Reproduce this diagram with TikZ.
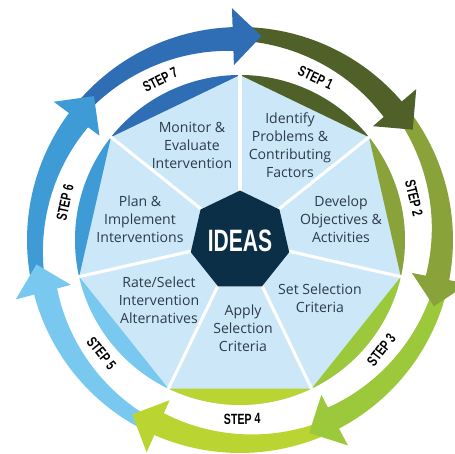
\documentclass[tikz,border=0pt]{standalone}
\usepackage{fontspec}
\setmainfont{Open Sans}
\newfontfamily\labelfont{Liberation Sans}[FakeStretch=0.72]
\newfontfamily\ideasfont{Liberation Sans}[FakeStretch=0.68]
\usetikzlibrary{shapes.geometric}

\definecolor{stepA}{HTML}{4F6129}
\definecolor{stepB}{HTML}{8AA23A}
\definecolor{stepC}{HTML}{9CC83B}
\definecolor{stepD}{HTML}{BAD532}
\definecolor{stepE}{HTML}{78C8F0}
\definecolor{stepF}{HTML}{3E9BD6}
\definecolor{stepG}{HTML}{2F6DB5}
\definecolor{paleblue}{HTML}{CCE8F8}
\definecolor{ideasnavy}{HTML}{0C2F48}
\definecolor{slate}{HTML}{2B3B4C}

\begin{document}
\begin{tikzpicture}[x=0.025cm,y=0.025cm,
    sectortext/.style={align=center,text=slate,font=\fontsize{10}{12.8}\selectfont},
    steplabel/.style={font=\labelfont\bfseries\fontsize{10.5}{10.5}\selectfont,inner sep=0pt}]
    \useasboundingbox (-240,-214) rectangle (215,240);
    % arrow bodies
    \foreach \k/\col in {1/stepA,2/stepB,3/stepC,4/stepD,5/stepE,6/stepF,7/stepG} {
        \pgfmathsetmacro{\b}{92-51.43*\k}
        \pgfmathsetmacro{\s}{\b+47.43}
        \pgfmathsetmacro{\e}{\b-1}
        \fill[\col] plot[domain=\s:\e,samples=30] (\x:213)
            -- plot[domain=\e:\s,samples=30] (\x:{189+10*(\x-\e)/48.43}) -- cycle;
    }
    % arrow heads
    \foreach \k/\col in {1/stepA,2/stepB,3/stepC,4/stepD,5/stepE,6/stepF,7/stepG} {
        \pgfmathsetmacro{\b}{92-51.43*\k}
        \fill[\col] (\b:175) -- (\b:232) -- ({\b-8}:205) -- cycle;
    }
    % pie and crescents
    \fill[paleblue] (0,0) circle (165);
    \foreach \k/\col in {1/stepA,2/stepB,3/stepC,4/stepD,5/stepE,6/stepF,7/stepG} {
        \pgfmathsetmacro{\v}{90-51.43*(\k-1)}
        \fill[\col] (\v:165) arc[start angle=\v, end angle=\v-51.43, radius=165] -- cycle;
    }
    \foreach \k in {0,...,6}
        \draw[white,line width=2.2pt] (90-51.43*\k:30) -- (90-51.43*\k:167);
    \node[regular polygon,regular polygon sides=7,fill=ideasnavy,minimum size=2.05cm,inner sep=0pt] (ideas) at (0,-1)
        {\color{white}\ideasfont\bfseries\fontsize{22}{22}\selectfont IDEAS};
    % step labels
    \foreach \k in {1,...,7} {
        \pgfmathsetmacro{\a}{65-51.43*(\k-1)}
        \pgfmathsetmacro{\r}{sin(\a)>0 ? \a-90 : \a+90}
        \node[steplabel,rotate=\r] (step\k) at (\a:179) {STEP \k};
    }
    % sector texts
    \node[sectortext] (identify) at (50,95) {Identify\\Problems \&\\Contributing\\Factors};
    \node[sectortext] (develop) at (101,21) {Develop\\Objectives \&\\Activities};
    \node[sectortext] (setcrit) at (80,-58) {Set Selection\\Criteria};
    \node[sectortext] (apply) at (3,-88) {Apply\\Selection\\Criteria};
    \node[sectortext] (rate) at (-81,-60) {Rate/Select\\Intervention\\Alternatives};
    \node[sectortext] (plan) at (-100,21) {Plan \&\\Implement\\Interventions};
    \node[sectortext] (monitor) at (-48,95) {Monitor \&\\Evaluate\\Intervention};
\end{tikzpicture}
\end{document}
